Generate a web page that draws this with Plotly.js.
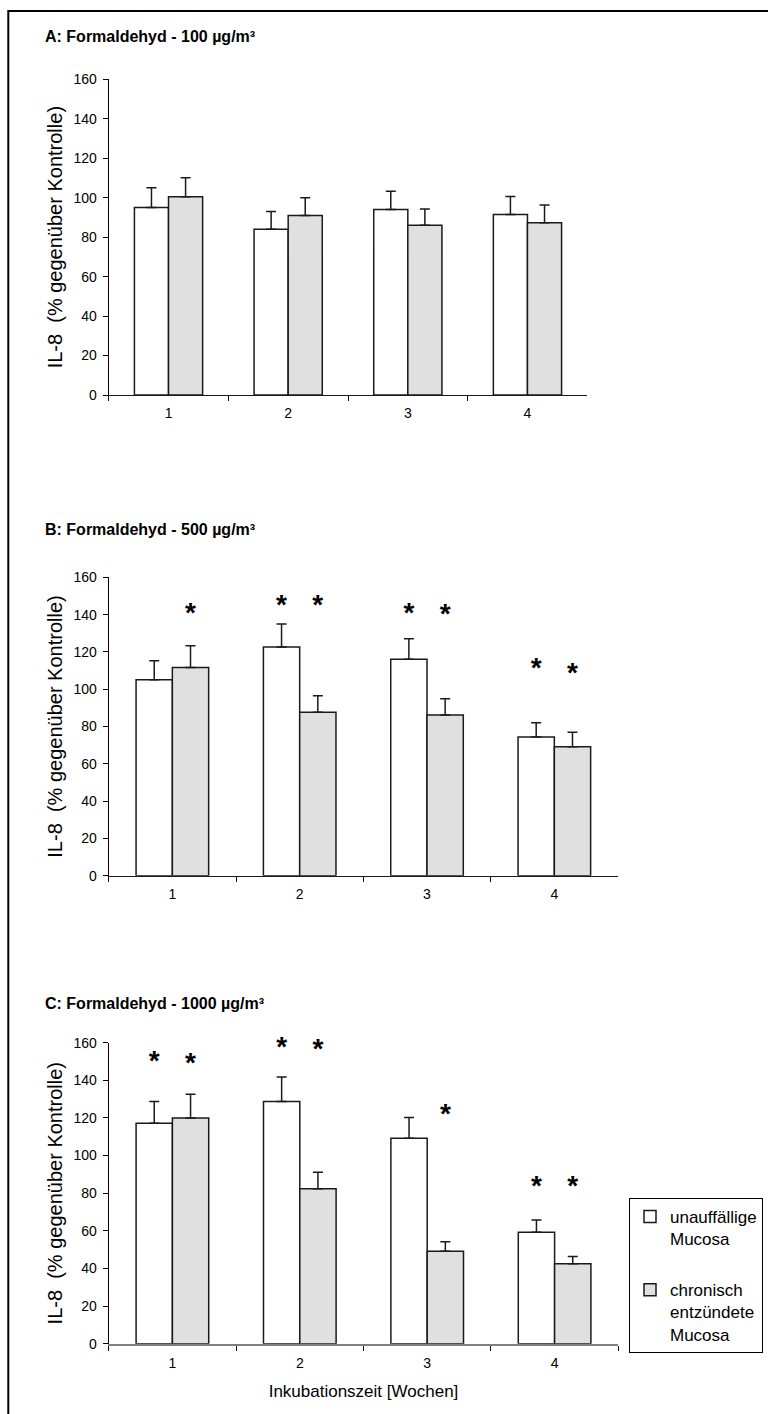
<!DOCTYPE html>
<html>
<head>
<meta charset="utf-8">
<script src="https://cdn.plot.ly/plotly-3.0.1.min.js"></script>
<style>html,body{margin:0;padding:0;background:#fff;}#chart{width:768px;height:1414px;}</style>
</head>
<body>
<div id="chart"></div>
<script>
// ---- data ----
const weeks = ['1', '2', '3', '4'];

const panelTitles = ['A: Formaldehyd - 100 µg/m³', 'B: Formaldehyd - 500 µg/m³', 'C: Formaldehyd - 1000 µg/m³'];
const seriesNames = ['unauffällige<br>Mucosa', 'chronisch<br>entzündete<br>Mucosa'];
const yTitle = 'IL-8  (% gegenüber Kontrolle)';
const xTitle = 'Inkubationszeit [Wochen]';
const yTicks = [0, 20, 40, 60, 80, 100, 120, 140, 160];

const aWhite = [95, 84, 94, 91.5];
const aWhiteErr = [10, 9, 9.3, 9.1];
const aGray = [100.5, 91, 86, 87.3];
const aGrayErr = [9.6, 9, 8.3, 9];

const bWhite = [105, 122.6, 116, 74.4];
const bWhiteErr = [10.2, 12.4, 11.1, 7.6];
const bGray = [111.7, 87.6, 86.2, 69.2];
const bGrayErr = [11.6, 8.9, 8.7, 7.7];

const cWhite = [117.2, 128.7, 109.2, 59.2];
const cWhiteErr = [11.5, 13.1, 11, 6.6];
const cGray = [120, 82.4, 49.1, 42.5];
const cGrayErr = [12.6, 8.7, 5.1, 3.8];

// significance stars (height where each asterisk sits)
const bStarWhite = [null, 144, 140, 110.5];
const bStarGray = [140, 144, 139.5, 107.5];
const cStarWhite = [149, 156.5, null, 83];
const cStarGray = [148, 155.5, 121, 83];

// ---- styling ----
const FONT = 'Liberation Sans, Arial, sans-serif';
const W = 768, H = 1414;
const px = v => v / W;
const py = v => 1 - v / H;
const WHITE = '#ffffff', GRAY = '#e0e0e0', EDGE = '#1a1a1a';

function barTrace(vals, errs, fill, axis, name, show, group) {
  return {
    type: 'bar', x: weeks, y: vals, name: name, showlegend: show, legendgroup: group,
    xaxis: 'x' + axis.x, yaxis: 'y' + axis.y, offsetgroup: group,
    marker: {color: fill, line: {color: EDGE, width: 1.5}},
    error_y: {type: 'data', array: errs, arrayminus: errs.map(() => 0), symmetric: false,
              visible: true, color: EDGE, thickness: 1.5, width: 5},
    hoverinfo: 'skip'
  };
}
function starTrace(vals, axis, group) {
  return {
    type: 'scatter', mode: 'text', x: weeks, y: vals, text: vals.map(v => v == null ? '' : '*'),
    textposition: 'middle center', showlegend: false, offsetgroup: group,
    textfont: {family: FONT, size: 28, color: '#000', weight: 'bold'},
    xaxis: 'x' + axis.x, yaxis: 'y' + axis.y, hoverinfo: 'skip', cliponaxis: false
  };
}

const axA = {x: '', y: ''}, axB = {x: '2', y: '2'}, axC = {x: '3', y: '3'};

const data = [
  barTrace(aWhite, aWhiteErr, WHITE, axA, seriesNames[0], false, 'w'),
  barTrace(aGray, aGrayErr, GRAY, axA, seriesNames[1], false, 'g'),
  barTrace(bWhite, bWhiteErr, WHITE, axB, seriesNames[0], false, 'w'),
  barTrace(bGray, bGrayErr, GRAY, axB, seriesNames[1], false, 'g'),
  barTrace(cWhite, cWhiteErr, WHITE, axC, seriesNames[0], true, 'w'),
  barTrace(cGray, cGrayErr, GRAY, axC, seriesNames[1], true, 'g'),
  starTrace(bStarWhite, axB, 'w'),
  starTrace(bStarGray, axB, 'g'),
  starTrace(cStarWhite, axC, 'w'),
  starTrace(cStarGray, axC, 'g')
];

const panels = [
  {x: [108.7, 587.3], y: [395, 79.3], title: 37, xline: '#1a1a1a', xw: 1},
  {x: [108.7, 618], y: [875.7, 577.3], title: 529, xline: '#1a1a1a', xw: 1},
  {x: [108.7, 618.3], y: [1343.7, 1042.7], title: 1003, xline: '#808080', xw: 2}
];

const layout = {
  width: W, height: H,
  margin: {l: 0, r: 0, t: 0, b: 0},
  paper_bgcolor: '#fff', plot_bgcolor: 'rgba(0,0,0,0)',
  barmode: 'group', bargap: 0.43, bargroupgap: 0,
  scattermode: 'group', scattergap: 0.43,
  font: {family: FONT, size: 14, color: '#000'},
  showlegend: true,
  legend: {
    x: px(629), y: py(1198), xanchor: 'left', yanchor: 'top',
    bgcolor: '#fff', bordercolor: '#000', borderwidth: 1,
    font: {family: FONT, size: 17, color: '#000'},
    valign: 'top', tracegroupgap: 26, traceorder: 'grouped'
  },
  annotations: [],
  shapes: [{type: 'rect', xref: 'paper', yref: 'paper', x0: px(8.3), x1: 1.02, y0: -0.02, y1: py(11),
            line: {color: '#000', width: 2}, fillcolor: 'rgba(0,0,0,0)'}]
};

panels.forEach((p, i) => {
  const n = i === 0 ? '' : String(i + 1);
  const xd = [px(p.x[0]), px(p.x[1])];
  const yd = [py(p.y[0]), py(p.y[1])];
  layout['xaxis' + n] = {
    domain: xd, anchor: 'y' + n, type: 'category', categoryorder: 'array', categoryarray: weeks,
    range: [-0.5, 3.5], tickson: 'boundaries', ticks: 'outside', ticklen: 5, tickcolor: '#000', tickwidth: 1,
    showline: true, linecolor: p.xline, linewidth: p.xw, showgrid: false, zeroline: false,
    tickfont: {family: FONT, size: 14, color: '#000'}, ticklabelstandoff: 5, fixedrange: true,
    title: i === 2 ? {text: xTitle, font: {family: FONT, size: 17, color: '#000'}, standoff: 16} : {text: ''}
  };
  layout['yaxis' + n] = {
    domain: yd, anchor: 'x' + n, range: [0, 160], tickvals: yTicks, ticks: 'outside', ticklen: 5,
    tickcolor: '#000', tickwidth: 1, showline: true, linecolor: '#000', linewidth: 1,
    showgrid: false, zeroline: false, tickfont: {family: FONT, size: 14, color: '#000'},
    ticklabelstandoff: 3, fixedrange: true,
    title: {text: yTitle, font: {family: FONT, size: 20, color: '#000'}, standoff: 5}
  };
  // overlay axis giving the inner half of the crossing category ticks
  const on = String(i + 4);
  layout['xaxis' + on] = {
    domain: xd, anchor: 'y' + n, overlaying: 'x' + n, type: 'linear', range: [-0.5, 3.5],
    tickvals: [0.5, 1.5, 2.5, 3.5], ticks: 'inside', ticklen: 5, tickcolor: '#000', tickwidth: 1,
    showticklabels: false, showline: false, showgrid: false, zeroline: false, fixedrange: true
  };
  layout.annotations.push({
    xref: 'paper', yref: 'paper', x: px(43), y: py(p.title), xanchor: 'left', yanchor: 'middle',
    text: '<b>' + panelTitles[i] + '</b>', showarrow: false,
    font: {family: FONT, size: 16, color: '#000'}
  });
});

Plotly.newPlot('chart', data, layout, {staticPlot: true, displayModeBar: false});
</script>
</body>
</html>
